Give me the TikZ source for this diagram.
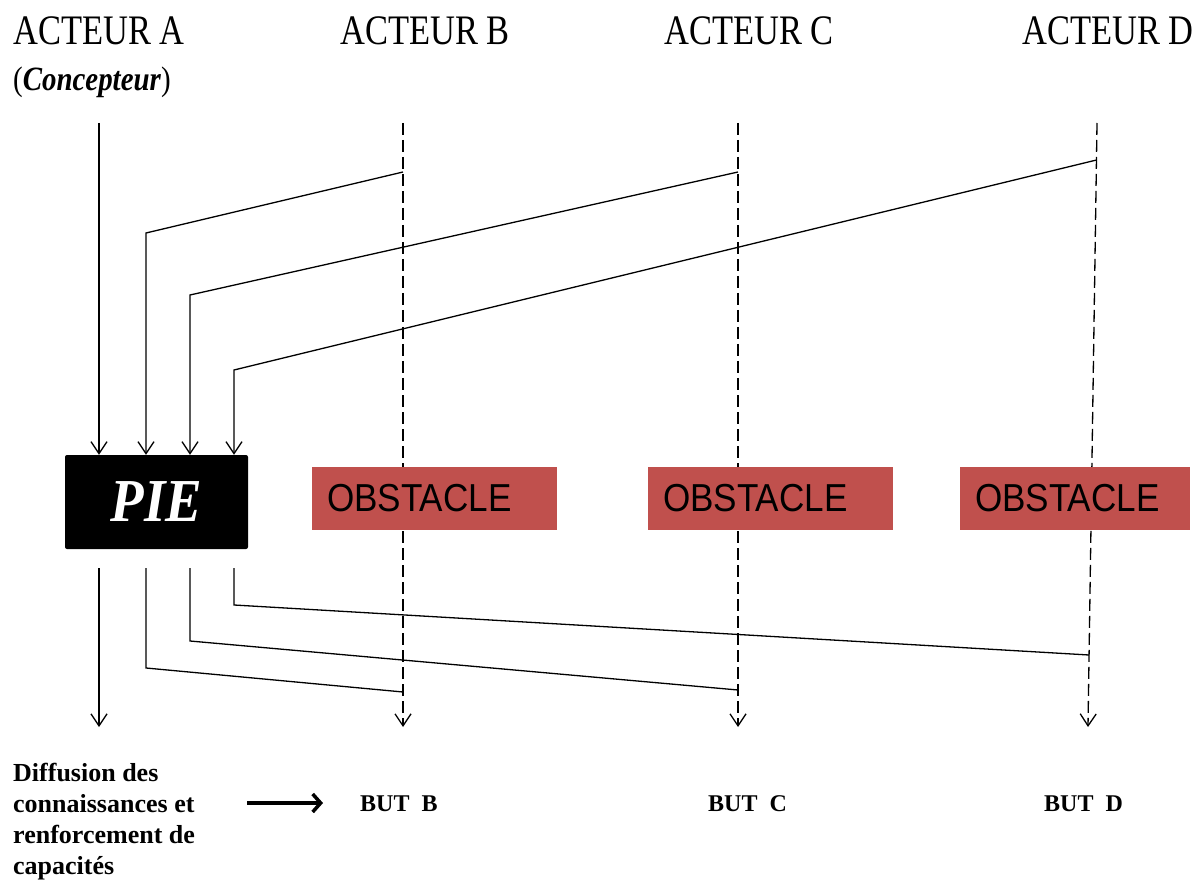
\documentclass[tikz,border=0pt]{standalone}
\usepackage{fontspec}
\setmainfont{Liberation Serif}
\newfontfamily\hdfont[FakeStretch=0.82]{Liberation Serif}
\newfontfamily\pfont[FakeStretch=0.9]{Liberation Serif}
\newfontfamily\cfont[FakeStretch=0.85]{Liberation Serif}
\newfontfamily\obsfont[FakeStretch=0.9]{Liberation Sans}
\usetikzlibrary{arrows.meta}
\definecolor{obsred}{RGB}{192,80,77}
\begin{document}
\begin{tikzpicture}[x=1pt,y=-1pt,
  ln/.style={line width=1.3pt},
  dl/.style={line width=1.3pt, dash pattern=on 12pt off 5pt},
  tip/.style={-{Straight Barb[length=12pt,width=16pt]}},
  actor/.style={anchor=base, inner sep=0pt, font=\hdfont\fontsize{42}{48}\selectfont},
  piebox/.style={fill=black, rounded corners=2pt, minimum width=183pt, minimum height=94pt, inner sep=0pt, text=white, font=\pfont\bfseries\itshape\fontsize{61}{61}\selectfont},
  obstacle/.style={fill=obsred, minimum height=63pt, inner xsep=15pt, inner ysep=0pt, align=left, font=\obsfont\fontsize{39}{39}\selectfont},
  goal/.style={anchor=base west, inner sep=0pt, font=\bfseries\fontsize{24}{28}\selectfont},
]
\useasboundingbox (0,0) rectangle (1199,882);

% titles
\node[actor] (tA) at (99,45) {ACTEUR A};
\node[actor] (tB) at (425,45) {ACTEUR B};
\node[actor] (tC) at (749,45) {ACTEUR C};
\node[actor] (tD) at (1108,45) {ACTEUR D};
\node[anchor=base west, inner sep=0pt, font=\cfont\fontsize{34}{38}\selectfont] (conc) at (13,91) {(\textbf{\textit{Concepteur}})};

% PIE
\node[piebox] (pie) at (156.5,502) {PIE};

% lifelines
\coordinate (Atop) at (99,123);
\coordinate (Btop) at (403,123);
\coordinate (Ctop) at (738,123);
\coordinate (Dtop) at (1097,123);
\coordinate (Bend) at (403,727);
\coordinate (Cend) at (738,727);
\coordinate (Dend) at (1088,727);

% junctions (top)
\coordinate (Bj) at (403,172);
\coordinate (Cj) at (738,172);
\coordinate (Dj) at (1096.5,160);
\coordinate (k2) at (146,233);
\coordinate (k3) at (190,295);
\coordinate (k4) at (234,370);

% junctions (bottom)
\coordinate (m1) at (99,568);
\coordinate (m2) at (146,568);
\coordinate (m3) at (190,568);
\coordinate (m4) at (234,568);
\coordinate (e1) at (99,727);
\coordinate (n2) at (146,668);
\coordinate (n3) at (190,641);
\coordinate (n4) at (234,605);
\coordinate (Bb) at (403,692);
\coordinate (Cb) at (738,690);
\coordinate (Db) at (1089,655);

% dashed lifelines
\draw[dl,tip] (Btop) -- (Bend);
\draw[dl,tip] (Ctop) -- (Cend);
\draw[dl,tip] (Dtop) -- (Dend);

% inputs to PIE
\draw[ln,tip] (Atop) -- (Atop |- pie.north);
\draw[ln,tip] (Bj) -- (k2) -- (k2 |- pie.north);
\draw[ln,tip] (Cj) -- (k3) -- (k3 |- pie.north);
\draw[ln,tip] (Dj) -- (k4) -- (k4 |- pie.north);

% outputs from PIE
\draw[ln,tip] (m1) -- (e1);
\draw[ln] (m2) -- (n2) -- (Bb);
\draw[ln] (m3) -- (n3) -- (Cb);
\draw[ln] (m4) -- (n4) -- (Db);

% obstacles
\node[obstacle, text width=215pt] (o1) at (434.5,498.5) {OBSTACLE};
\node[obstacle, text width=215pt] (o2) at (770.5,498.5) {OBSTACLE};
\node[obstacle, text width=200pt] (o3) at (1075,498.5) {OBSTACLE};

% bottom
\node[anchor=north west, inner sep=0pt, align=left, font=\bfseries\fontsize{26}{31}\selectfont] (diff) at (13,763)
  {Diffusion des\\connaissances et\\renforcement de\\capacités};
\coordinate (ar1) at (247,803);
\coordinate (ar2) at (323,803);
\draw[line width=3.5pt, -{Straight Barb[length=8pt,width=18pt]}] (ar1) -- (ar2);
\node[goal] (gB) at (360,811) {BUT~~B};
\node[goal] (gC) at (708,811) {BUT~~C};
\node[goal] (gD) at (1044,811) {BUT~~D};
\end{tikzpicture}
\end{document}
